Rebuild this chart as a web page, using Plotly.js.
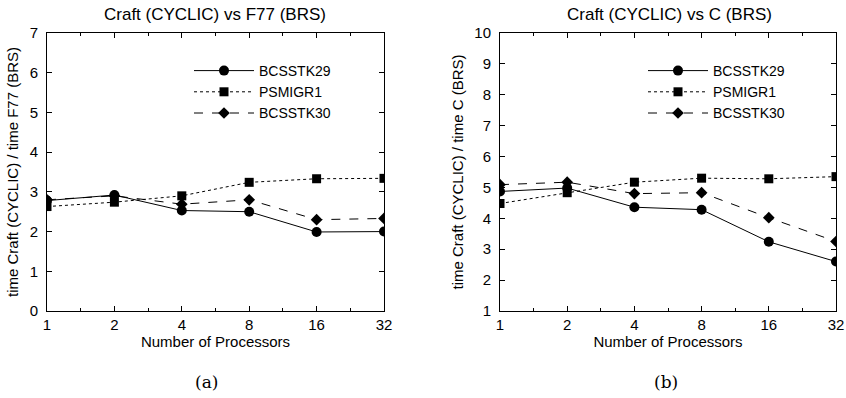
<!DOCTYPE html>
<html>
<head>
<meta charset="utf-8">
<script src="https://cdn.plot.ly/plotly-3.0.1.min.js"></script>
<style>html,body{margin:0;padding:0;background:#fff;}#chart{width:846px;height:398px;}</style>
</head>
<body>
<div id="chart"></div>
<script>
const processors = [1, 2, 4, 8, 16, 32];
const tickLabels = ["1", "2", "4", "8", "16", "32"];
const seriesNames = ["BCSSTK29", "PSMIGR1", "BCSSTK30"];

// (a) Craft (CYCLIC) vs F77 (BRS)
const f77_BCSSTK29 = [2.78, 2.92, 2.53, 2.50, 1.99, 2.00];
const f77_PSMIGR1  = [2.63, 2.74, 2.90, 3.24, 3.33, 3.34];
const f77_BCSSTK30 = [2.80, 2.90, 2.69, 2.80, 2.30, 2.33];

// (b) Craft (CYCLIC) vs C (BRS)
const c_BCSSTK29 = [4.87, 4.98, 4.36, 4.28, 3.24, 2.60];
const c_PSMIGR1  = [4.48, 4.83, 5.17, 5.30, 5.28, 5.35];
const c_BCSSTK30 = [5.09, 5.17, 4.80, 4.83, 4.02, 3.25];

const FONT = "Liberation Sans, Arial, sans-serif";
const styles = [
  {dash: "solid", symbol: "circle", size: 10},
  {dash: "dot", symbol: "square", size: 9},
  {dash: "dash", symbol: "diamond", size: 9}
];

function mk(y, i, xa, ya, leg) {
  return {
    x: processors, y: y, name: seriesNames[i], type: "scatter", mode: "lines+markers",
    xaxis: xa, yaxis: ya, legend: leg,
    line: {color: "#000", width: 1, dash: styles[i].dash},
    marker: {color: "#000", symbol: styles[i].symbol, size: styles[i].size}
  };
}

const data = [
  mk(f77_BCSSTK29, 0, "x", "y", "legend"),
  mk(f77_PSMIGR1, 1, "x", "y", "legend"),
  mk(f77_BCSSTK30, 2, "x", "y", "legend"),
  mk(c_BCSSTK29, 0, "x2", "y2", "legend2"),
  mk(c_PSMIGR1, 1, "x2", "y2", "legend2"),
  mk(c_BCSSTK30, 2, "x2", "y2", "legend2")
];

const minorVals = [1.414, 2.828, 5.657, 11.31, 22.63];

function xax(domain, anchor) {
  return {
    domain: domain, anchor: anchor, type: "log",
    range: [0, Math.log10(32)],
    tickvals: processors, ticktext: tickLabels,
    ticks: "inside", ticklen: 5, tickcolor: "#000", tickwidth: 1,
    minor: {tickvals: minorVals, ticks: "inside", ticklen: 3, tickcolor: "#000"},
    showline: true, linecolor: "#000", linewidth: 1, mirror: "ticks",
    showgrid: false, zeroline: false, ticklabeloverflow: "allow",
    tickfont: {family: FONT, size: 15, color: "#000"},
    title: {text: "Number of Processors", font: {family: FONT, size: 15, color: "#000"}, standoff: 2}
  };
}
function yax(domain, anchor, range, dtick, title) {
  return {
    domain: domain, anchor: anchor, range: range, dtick: dtick, tick0: 0,
    ticks: "inside", ticklen: 5, tickcolor: "#000", tickwidth: 1,
    showline: true, linecolor: "#000", linewidth: 1, mirror: "ticks",
    showgrid: false, zeroline: false, ticklabelstandoff: 5,
    tickfont: {family: FONT, size: 15, color: "#000"},
    title: {text: title, font: {family: FONT, size: 15, color: "#000"}, standoff: 7}
  };
}

const yd = [87/398, 365/398];
const legendCommon = {
  font: {family: FONT, size: 14, color: "#000"},
  bgcolor: "rgba(0,0,0,0)", borderwidth: 0,
  itemwidth: 60, tracegroupgap: 0,
  xanchor: "left", yanchor: "top"
};

const layout = {
  width: 846, height: 398,
  margin: {l: 0, r: 0, t: 0, b: 0},
  paper_bgcolor: "#fff", plot_bgcolor: "#fff",
  font: {family: FONT, size: 15, color: "#000"},
  xaxis: xax([47/846, 384/846], "y"),
  yaxis: yax(yd, "x", [0, 7], 1, "time Craft (CYCLIC) / time F77 (BRS)"),
  xaxis2: xax([500/846, 836/846], "y2"),
  yaxis2: yax(yd, "x2", [1, 10], 1, "time Craft (CYCLIC) / time C (BRS)"),
  legend: Object.assign({x: 189/846, y: 1 - 55/398}, legendCommon),
  legend2: Object.assign({x: 643/846, y: 1 - 55/398}, legendCommon),
  annotations: [
    {text: "Craft (CYCLIC) vs F77 (BRS)", xref: "paper", yref: "paper", x: 215/846, y: 1 - 15/398,
     showarrow: false, font: {family: FONT, size: 17, color: "#000"}, xanchor: "center", yanchor: "middle"},
    {text: "Craft (CYCLIC) vs C (BRS)", xref: "paper", yref: "paper", x: 669/846, y: 1 - 15/398,
     showarrow: false, font: {family: FONT, size: 17, color: "#000"}, xanchor: "center", yanchor: "middle"},
    {text: "(a)", xref: "paper", yref: "paper", x: 206/846, y: 1 - 382/398,
     showarrow: false, font: {family: "DejaVu Serif, Liberation Serif, serif", size: 17, color: "#000"}, xanchor: "center", yanchor: "middle"},
    {text: "(b)", xref: "paper", yref: "paper", x: 666/846, y: 1 - 382/398,
     showarrow: false, font: {family: "DejaVu Serif, Liberation Serif, serif", size: 17, color: "#000"}, xanchor: "center", yanchor: "middle"}
  ]
};

Plotly.newPlot("chart", data, layout, {staticPlot: true, displayModeBar: false});
</script>
</body>
</html>
